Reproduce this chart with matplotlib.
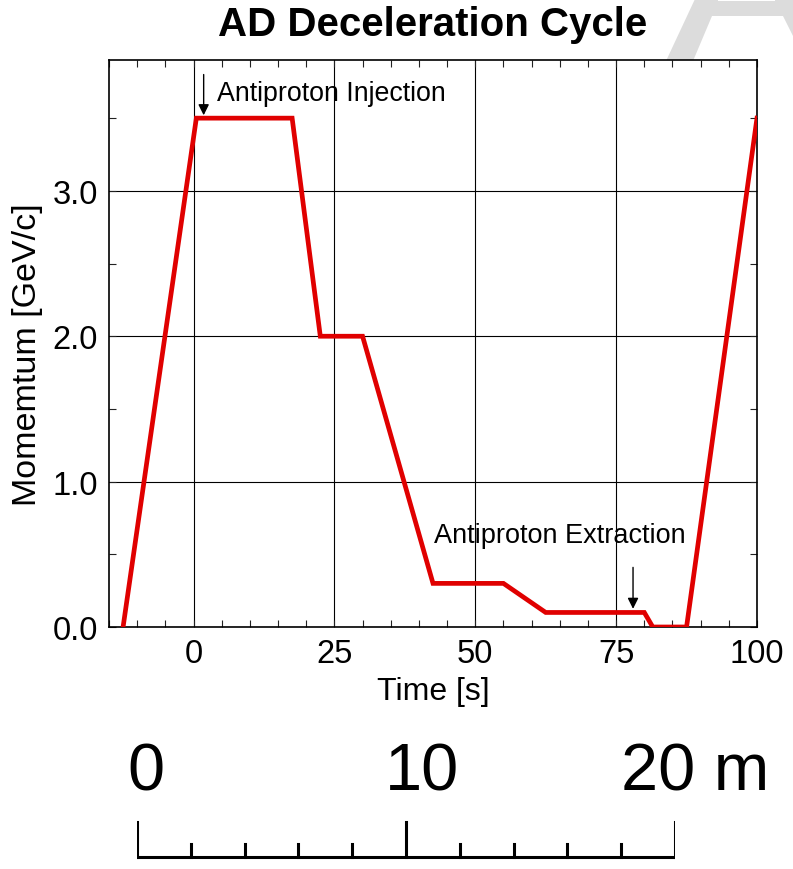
import matplotlib
matplotlib.use("Agg")
import matplotlib.pyplot as plt
from matplotlib.patches import Polygon
from matplotlib.ticker import MultipleLocator, FormatStrFormatter

# cycle data (time [s], momentum [GeV/c])
time_s = [-12.5, 0.5, 17.5, 22.5, 30, 42.5, 55, 62.5, 80, 81.5, 87.5, 100]
momentum = [0.0, 3.5, 3.5, 2.0, 2.0, 0.3, 0.3, 0.1, 0.1, 0.0, 0.0, 3.5]

x_ticks = [0, 25, 50, 75, 100]
y_ticks = [0.0, 1.0, 2.0, 3.0]

# scale bar (metres)
bar_ticks = [0, 2, 4, 6, 8, 10, 12, 14, 16, 18, 20]
bar_labels = ["0", "10", "20 m"]
bar_label_pos = [0, 10, 20]

W, H = 793, 870
plt.rcParams['font.family'] = ['Liberation Sans', 'DejaVu Sans']

fig = plt.figure(figsize=(W / 100, H / 100), dpi=100)

def px(x, y):
    return (x / W, 1 - y / H)

# faint logo in the corner
logo = [px(666, 62), px(693, 62), px(712, 17), px(783, 17), px(793, 37),
        px(793, 0), px(695, 0)]
fig.patches.append(Polygon(logo, closed=True, transform=fig.transFigure,
                           facecolor="#dcdcdc", edgecolor="none", zorder=-1))
notch = [px(718, 0), px(775, 0), px(775, 2), px(718, 2)]
fig.patches.append(Polygon(notch, closed=True, transform=fig.transFigure,
                           facecolor="white", edgecolor="none", zorder=-1))

ax = fig.add_axes([109 / W, 1 - 628 / H, (757 - 109) / W, (628 - 61) / H])
ax.plot(time_s, momentum, color="#e00000", lw=3.4, solid_joinstyle="miter", zorder=3)

ax.set_xlim(-15, 100)
ax.set_ylim(0, 3.9)
ax.set_xticks(x_ticks)
ax.set_yticks(y_ticks)
ax.yaxis.set_major_formatter(FormatStrFormatter("%.1f"))
ax.xaxis.set_minor_locator(MultipleLocator(5))
ax.yaxis.set_minor_locator(MultipleLocator(0.5))
ax.tick_params(which="both", direction="in", top=True, right=True, labelsize=23.5,
               width=0.8, color="#222222", length=5)
ax.tick_params(axis="x", pad=8)
ax.tick_params(axis="y", pad=8)
ax.grid(True, which="major", color="black", lw=0.8)
for s in ax.spines.values():
    s.set_linewidth(1.2)

ax.set_xlabel("Time [s]", fontsize=23, labelpad=5)
ax.set_ylabel("Momemtum [GeV/c]", fontsize=24.5)
ax.yaxis.set_label_coords(-0.102, 0.482)

arrow = dict(arrowstyle="-|>", color="black", lw=1.0, mutation_scale=16,
             shrinkA=0, shrinkB=0)
ax.annotate("", xy=(1.8, 3.52), xytext=(1.8, 3.80), arrowprops=arrow)
ax.text(4.2, 3.67, "Antiproton Injection", fontsize=19.3, va="center", ha="left")
ax.annotate("", xy=(78, 0.125), xytext=(78, 0.41), arrowprops=arrow)
ax.text(42.6, 0.63, "Antiproton Extraction", fontsize=19.5, va="center", ha="left")

fig.text(433 / W, 1 - 25 / H, "AD Deceleration Cycle", fontsize=29,
         fontweight="bold", ha="center", va="center")

# scale bar
sb = fig.add_axes([137 / W, 0, (675 - 137) / W, 1 - 730 / H])
sb.set_xlim(0, 20)
sb.set_ylim(0, 140)
sb.axis("off")
sb.plot([bar_ticks[0], bar_ticks[-1]], [12, 12], color="black", lw=2.2,
        solid_capstyle="projecting")
for t in bar_ticks:
    h = 35 if t % 10 == 0 else 13
    sb.plot([t, t], [12, 12 + h], color="black", lw=2.2)
offsets = [0.32, 0.58, -2.0]
has = ["center", "center", "left"]
for lab, pos, off, ha in zip(bar_labels, bar_label_pos, offsets, has):
    sb.text(pos + off, 96, lab, fontsize=48, ha=ha, va="center")

fig.savefig("out.png", dpi=100)
